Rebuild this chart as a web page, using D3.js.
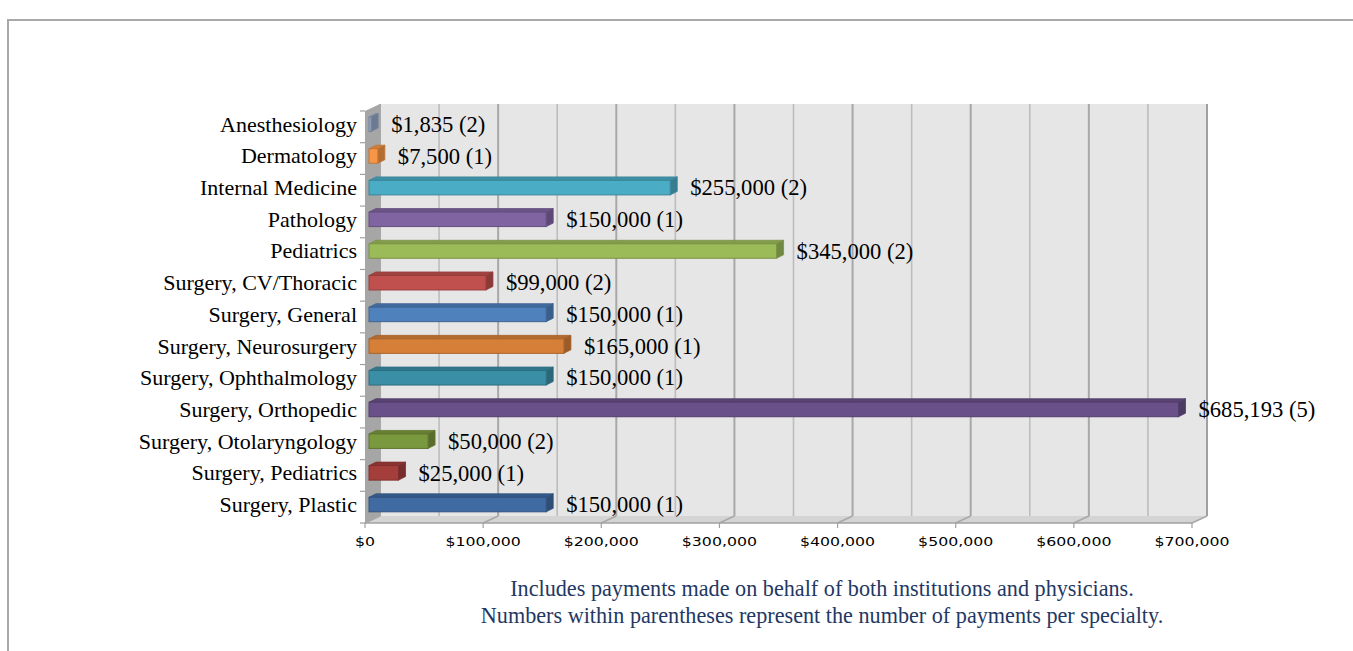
<!DOCTYPE html>
<html><head><meta charset="utf-8">
<script src="https://cdn.jsdelivr.net/npm/d3@7"></script>
<style>
html,body{margin:0;padding:0;background:#fff;}
svg{display:block;}
</style></head>
<body>
<svg id="chart" width="1353" height="651"></svg>
<script>
const categories = ["Anesthesiology","Dermatology","Internal Medicine","Pathology","Pediatrics","Surgery, CV/Thoracic","Surgery, General","Surgery, Neurosurgery","Surgery, Ophthalmology","Surgery, Orthopedic","Surgery, Otolaryngology","Surgery, Pediatrics","Surgery, Plastic"];
const amounts = [1835,7500,255000,150000,345000,99000,150000,165000,150000,685193,50000,25000,150000];
const paymentCounts = [2,1,2,1,2,2,1,1,1,5,2,1,1];
const barColors = ["#95A8C8","#F79646","#4BACC6","#8064A2","#9BBB59","#C0504D","#4F81BD","#D67F38","#3A8EA6","#6A5089","#7A983D","#A43E3B","#3F6BA2"];
const xTicks = [0,100000,200000,300000,400000,500000,600000,700000];
const gridTicks = [0,50000,100000,150000,200000,250000,300000,350000,400000,450000,500000,550000,600000,650000,700000];
const footnotes = ["Includes payments made on behalf of both institutions and physicians.","Numbers within parentheses represent the number of payments per specialty."];

const svg = d3.select("#chart");
const DX = 15, DY = -7; // wall depth
const x = d3.scaleLinear().domain([0,700000]).range([365,1192]);
const y = d3.scaleBand().domain(categories).range([111,523]).padding(0);
const fmt = d3.format("$,");

// frame
svg.append("path").attr("d","M8,651 L8,20 L1353,20").attr("fill","none").attr("stroke","#a9a9a9").attr("stroke-width",2);

const yTop = y.range()[0], yBot = y.range()[1];
// back wall
svg.append("rect").attr("x",x(0)+DX).attr("y",yTop+DY).attr("width",x(700000)-x(0)).attr("height",yBot-yTop).attr("fill","#e6e6e6");
// gridlines on back wall
svg.append("g").selectAll("line").data(gridTicks).join("line")
  .attr("x1",d=>x(d)+DX).attr("x2",d=>x(d)+DX).attr("y1",yTop+DY).attr("y2",yBot+DY)
  .attr("stroke",d=>d%100000===0?"#a8a8a8":"#bdbdbd").attr("stroke-width",d=>d%100000===0?2:1.6);
// left wall
svg.append("path").attr("d",`M${x(0)},${yTop} L${x(0)+DX},${yTop+DY} L${x(0)+DX},${yBot+DY} L${x(0)},${yBot} Z`).attr("fill","#a6a6a6");
// floor
svg.append("path").attr("d",`M${x(0)},${yBot} L${x(0)+DX},${yBot+DY} L${x(700000)+DX},${yBot+DY} L${x(700000)},${yBot} Z`).attr("fill","#d4d4d4");
svg.append("g").selectAll("line").data(xTicks).join("line")
  .attr("x1",d=>x(d)).attr("x2",d=>x(d)+DX).attr("y1",yBot).attr("y2",yBot+DY)
  .attr("stroke","#a8a8a8").attr("stroke-width",1.5);
svg.append("line").attr("x1",x(0)).attr("x2",x(700000)).attr("y1",yBot).attr("y2",yBot).attr("stroke","#a0a0a0").attr("stroke-width",1.5);
svg.append("line").attr("x1",x(700000)+DX).attr("x2",x(700000)+DX).attr("y1",yTop+DY).attr("y2",yBot+DY).attr("stroke","#a0a0a0").attr("stroke-width",2);

// x axis ticks
svg.append("g").selectAll("line").data(xTicks).join("line")
  .attr("x1",d=>x(d)).attr("x2",d=>x(d)).attr("y1",yBot).attr("y2",yBot+5)
  .attr("stroke","#a0a0a0").attr("stroke-width",1.2);
// left wall category ticks
svg.append("g").selectAll("line").data(d3.range(categories.length+1)).join("line")
  .attr("x1",x(0)-5).attr("x2",x(0)).attr("y1",i=>yTop+i*y.step()).attr("y2",i=>yTop+i*y.step())
  .attr("stroke","#a0a0a0").attr("stroke-width",1.2);

// x labels
const xl = svg.append("g").selectAll("text").data(xTicks).join("text")
  .attr("x",d=>x(d)).attr("y",yBot+23).attr("text-anchor","middle")
  .attr("font-family","DejaVu Sans").attr("font-size",11.5).attr("fill","#000")
  .text(d=>fmt(d));
xl.each(function(){ const L=this.getComputedTextLength(); d3.select(this).attr("textLength",L*1.37).attr("lengthAdjust","spacingAndGlyphs"); });

// bars
const BX = 4, BDX = 7, BDY = -3.5, BOFF = 6, BH = 14.5;
const bars = svg.append("g").selectAll("g").data(categories).join("g");
bars.each(function(c,i){
  const g = d3.select(this);
  const x0 = x(0)+BX, x1 = x(amounts[i])+BX, y0 = y(c)+BOFF, col = d3.color(barColors[i]);
  const dark = col.darker(0.5).formatHex(), darker = col.darker(0.9).formatHex(), edge = col.darker(0.7).formatHex();
  g.append("path").attr("d",`M${x0},${y0} L${x1},${y0} L${x1+BDX},${y0+BDY} L${x0+BDX},${y0+BDY} Z`).attr("fill",dark).attr("stroke",edge).attr("stroke-width",0.8);
  g.append("path").attr("d",`M${x1},${y0} L${x1+BDX},${y0+BDY} L${x1+BDX},${y0+BH+BDY} L${x1},${y0+BH} Z`).attr("fill",darker).attr("stroke",edge).attr("stroke-width",0.8);
  g.append("rect").attr("x",x0).attr("y",y0).attr("width",Math.max(0,x1-x0)).attr("height",BH).attr("fill",col.formatHex()).attr("stroke",edge).attr("stroke-width",1);
});

// category labels
svg.append("g").selectAll("text").data(categories).join("text")
  .attr("x",357).attr("y",d=>y(d)+BOFF+BH/2).attr("dy","0.34em").attr("text-anchor","end")
  .attr("font-family","Liberation Serif").attr("font-size",22).attr("fill","#000").text(d=>d);

// value labels
svg.append("g").selectAll("text").data(categories).join("text")
  .attr("x",(d,i)=>x(amounts[i])+BX+BDX+13).attr("y",d=>y(d)+BOFF+BH/2).attr("dy","0.34em")
  .attr("font-family","Liberation Serif").attr("font-size",22.6).attr("fill","#000")
  .text((d,i)=>`${fmt(amounts[i])} (${paymentCounts[i]})`);

// footnotes
svg.append("g").selectAll("text").data(footnotes).join("text")
  .attr("x",822).attr("y",(d,i)=>596+i*27).attr("text-anchor","middle")
  .attr("font-family","Liberation Serif").attr("font-size",22.2).attr("fill","#1F3864").text(d=>d);
</script>
</body></html>
